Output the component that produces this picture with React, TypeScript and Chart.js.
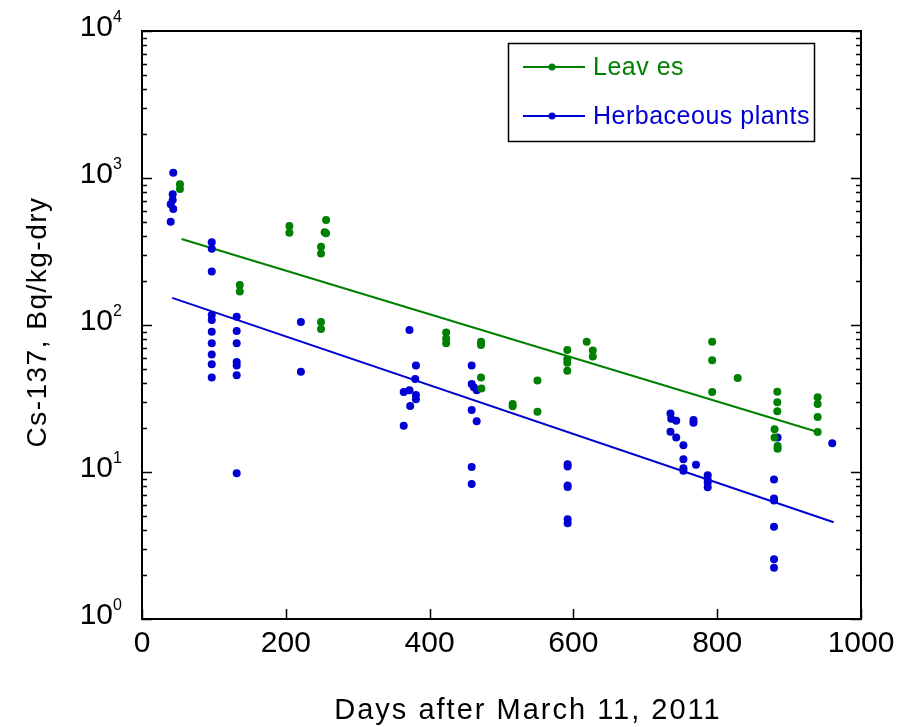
import React, { useEffect, useRef } from "react";
import { Chart, registerables } from "chart.js";

Chart.register(...registerables);

// ---- data ----
const leavesDays = [
  52.8, 52.8, 136, 136, 205, 205, 256, 254, 256, 249, 249, 249, 249,
  423, 423, 423, 471.5, 471.5, 471.5, 472, 515.5, 515.5, 550, 550,
  591.5, 591.5, 591.5, 591.5, 618.5, 627, 627, 793, 793, 793, 828.5,
  883.6, 883.6, 883.6, 879.8, 879.8, 884, 884, 939.7, 939.7, 939.7, 939.7,
];
const leavesValues = [
  906, 841, 187, 169, 471, 425, 518, 427, 421, 341, 306, 105, 94,
  89, 81, 75, 77, 73, 44, 37, 29, 28, 42, 25.7,
  67.6, 58.5, 55.4, 48.9, 77, 67, 61, 77, 57.5, 35, 43.6,
  35.2, 29.8, 25.9, 19.5, 17.2, 15, 14.4, 32.2, 29, 23.7, 18.7,
];
const herbDays = [
  43.5, 42.7, 42.7, 39.9, 43.5, 39.9,
  97, 97, 97, 97, 97, 97, 97, 97, 97, 97,
  131.7, 131.7, 131.7, 131.7, 131.7, 131.7, 131.7,
  221, 221,
  372, 381, 380, 364, 372, 381, 381, 373, 364,
  458.5, 458.5, 461.5, 465.5, 458.5, 465.5, 458.5, 458.5,
  592, 592, 592, 592, 592, 592,
  735, 736, 743, 767, 767, 735, 743, 753, 753, 753, 753, 770.5,
  786.8, 786.8, 786.8, 786.8,
  884, 879, 879, 879, 879, 879, 879,
  960,
];
const herbValues = [
  1087, 775, 708, 662, 615, 504,
  365, 330, 231, 117, 108, 90, 75, 63, 54, 44,
  114, 91, 75, 56, 53, 45.5, 9.8,
  105, 48,
  92.5, 53, 43, 35, 36, 33.4, 31.2, 28.1, 20.6,
  53, 39.7, 37.7, 36, 26.4, 22.1, 10.8, 8.3,
  11.3, 10.9, 8.1, 7.9, 4.77, 4.48,
  25, 23, 22.3, 22.6, 21.6, 18.8, 17.2, 15.2, 12.2, 10.6, 10.2, 11.2,
  9.5, 8.9, 8.45, 7.87,
  17.2, 8.9, 6.6, 6.4, 4.25, 2.55, 2.23,
  15.7,
];
const leavesFitDays = [55, 940];
const leavesFitValues = [385, 18.7];
const herbFitDays = [42, 962];
const herbFitValues = [153, 4.55];

const xTickValues = [0, 200, 400, 600, 800, 1000];
const yDecades = [0, 1, 2, 3, 4];
const seriesNames = ["Leav es", "Herbaceous plants"];
const xTitle = "Days after March 11, 2011";
const yTitle = "Cs-137, Bq/kg-dry";

const GREEN = "rgb(0,128,0)";
const BLUE = "rgb(0,0,210)";
const FONT = "'Liberation Sans', Arial, sans-serif";

const toPts = (xs: number[], ys: number[]) => xs.map((x, i) => ({ x, y: ys[i] }));

const drawPlugin = {
  id: "customDraw",
  afterDraw(chart: any) {
    const ctx = chart.ctx as CanvasRenderingContext2D;
    const area = chart.chartArea;
    const xs = chart.scales.x;
    const ys = chart.scales.y;
    ctx.save();
    ctx.strokeStyle = "#000";
    ctx.fillStyle = "#000";
    ctx.lineWidth = 2;
    // frame
    ctx.strokeRect(area.left, area.top, area.right - area.left, area.bottom - area.top);
    // y ticks (left & right, inward)
    ctx.lineWidth = 1.5;
    ys.ticks.forEach((t: any) => {
      const v = t.value;
      const lg = Math.log10(v);
      const major = Math.abs(lg - Math.round(lg)) < 1e-9;
      const py = Math.round(ys.getPixelForValue(v)) + 0.5;
      const len = major ? 10 : 5;
      ctx.beginPath();
      ctx.moveTo(area.left, py);
      ctx.lineTo(area.left + len, py);
      ctx.moveTo(area.right, py);
      ctx.lineTo(area.right - len, py);
      ctx.stroke();
    });
    // x ticks (bottom, inward)
    xs.ticks.forEach((t: any) => {
      const px = Math.round(xs.getPixelForValue(t.value)) + 0.5;
      ctx.beginPath();
      ctx.moveTo(px, area.bottom);
      ctx.lineTo(px, area.bottom - 10);
      ctx.stroke();
    });
    // x tick labels
    ctx.font = `30px ${FONT}`;
    ctx.textAlign = "center";
    ctx.textBaseline = "middle";
    xs.ticks.forEach((t: any) => {
      const px = xs.getPixelForValue(t.value);
      ctx.fillText(String(t.value), px, area.bottom + 25);
    });
    // y tick labels 10^n
    yDecades.forEach((d) => {
      const py = ys.getPixelForValue(Math.pow(10, d));
      ctx.font = `30px ${FONT}`;
      ctx.textAlign = "right";
      ctx.textBaseline = "middle";
      ctx.fillText("10", area.left - 29, py - 3);
      ctx.font = `16px ${FONT}`;
      ctx.textAlign = "left";
      ctx.textBaseline = "middle";
      ctx.fillText(String(d), area.left - 29, py - 13);
    });
    // axis titles
    ctx.font = `29px ${FONT}`;
    (ctx as any).letterSpacing = "2px";
    ctx.textAlign = "center";
    ctx.textBaseline = "middle";
    ctx.fillText(xTitle, 528, 711);
    ctx.save();
    ctx.translate(38, 322);
    ctx.rotate(-Math.PI / 2);
    ctx.font = `28px ${FONT}`;
    (ctx as any).letterSpacing = "1.5px";
    ctx.fillText(yTitle, 0, 0);
    ctx.restore();
    (ctx as any).letterSpacing = "0px";
    // legend
    ctx.lineWidth = 1.5;
    ctx.strokeStyle = "#000";
    ctx.strokeRect(508.5, 43.5, 306, 98);
    const items = [
      { name: seriesNames[0], color: GREEN, y: 67 },
      { name: seriesNames[1], color: BLUE, y: 116 },
    ];
    items.forEach((it) => {
      ctx.strokeStyle = it.color;
      ctx.fillStyle = it.color;
      ctx.lineWidth = 2;
      ctx.beginPath();
      ctx.moveTo(523, it.y);
      ctx.lineTo(585, it.y);
      ctx.stroke();
      ctx.beginPath();
      ctx.arc(552, it.y, 3.5, 0, Math.PI * 2);
      ctx.fill();
      ctx.font = `25px ${FONT}`;
      (ctx as any).letterSpacing = "0.5px";
      ctx.textAlign = "left";
      ctx.textBaseline = "middle";
      ctx.fillText(it.name, 593, it.y + 1);
      (ctx as any).letterSpacing = "0px";
    });
    ctx.restore();
  },
};

export default function App() {
  const ref = useRef<HTMLCanvasElement | null>(null);
  useEffect(() => {
    if (!ref.current) return;
    const chart = new Chart(ref.current, {
      type: "scatter",
      data: {
        datasets: [
          {
            label: seriesNames[0],
            data: toPts(leavesDays, leavesValues),
            backgroundColor: GREEN,
            borderColor: GREEN,
            pointRadius: 4,
            pointBorderWidth: 0,
            showLine: false,
          },
          {
            label: seriesNames[1],
            data: toPts(herbDays, herbValues),
            backgroundColor: BLUE,
            borderColor: BLUE,
            pointRadius: 4,
            pointBorderWidth: 0,
            showLine: false,
          },
          {
            label: "fit1",
            data: toPts(leavesFitDays, leavesFitValues),
            borderColor: GREEN,
            borderWidth: 2,
            pointRadius: 0,
            showLine: true,
          },
          {
            label: "fit2",
            data: toPts(herbFitDays, herbFitValues),
            borderColor: BLUE,
            borderWidth: 2,
            pointRadius: 0,
            showLine: true,
          },
        ],
      },
      options: {
        responsive: false,
        animation: false,
        layout: { padding: { top: 31, right: 42, left: 0, bottom: 0 } },
        plugins: { legend: { display: false }, tooltip: { enabled: false } },
        scales: {
          x: {
            type: "linear",
            min: 0,
            max: 1000,
            ticks: { display: false, stepSize: 200 },
            grid: { display: false },
            border: { display: false },
            afterBuildTicks: (s: any) => {
              s.ticks = xTickValues.map((v) => ({ value: v }));
            },
            afterFit: (s: any) => {
              s.height = 108;
            },
          },
          y: {
            type: "logarithmic",
            min: 1,
            max: 10000,
            ticks: { display: false },
            grid: { display: false },
            border: { display: false },
            afterBuildTicks: (s: any) => {
              const t: any[] = [];
              for (let d = 0; d < 4; d++) {
                for (let m = 1; m < 10; m++) t.push({ value: m * Math.pow(10, d) });
              }
              t.push({ value: 10000 });
              s.ticks = t;
            },
            afterFit: (s: any) => {
              s.width = 142;
            },
          },
        },
      },
      plugins: [drawPlugin],
    } as any);
    return () => chart.destroy();
  }, []);
  return (
    <div style={{ position: "absolute", left: 0, top: 0, width: 903, height: 727, background: "#fff" }}>
      <canvas ref={ref} width={903} height={727} style={{ width: 903, height: 727 }} />
    </div>
  );
}
